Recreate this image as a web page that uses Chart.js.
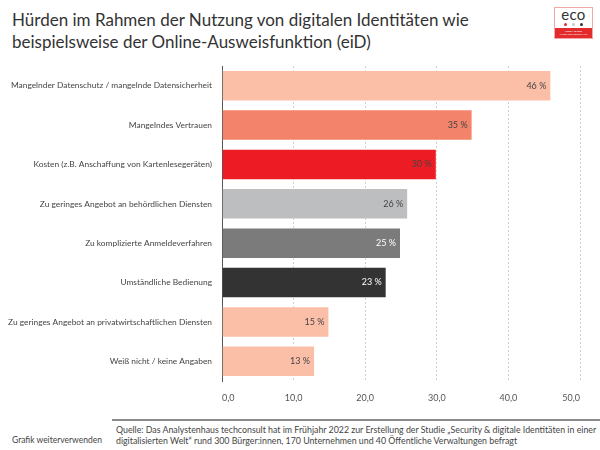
<!DOCTYPE html>
<html lang="de">
<head>
<meta charset="utf-8">
<script src="https://cdn.jsdelivr.net/npm/chart.js@4.4.0/dist/chart.umd.min.js"></script>
<style>
    html, body { margin: 0; padding: 0; background: #fff; }
    body { width: 600px; height: 450px; position: relative; overflow: hidden; font-family: Lato, "Open Sans", sans-serif; color: #333; }
    #chart { position: absolute; left: 0; top: 0; }
    .title { position: absolute; left: 12px; top: 9px; font-size: 17px; line-height: 21.5px; color: #333; }
    .logo { position: absolute; left: 554px; top: 7px; width: 37px; height: 30px; border: 1px solid #f0a8a8; background: #fff; }
    .logo .word { position: absolute; left: 0; right: 0; top: -1px; text-align: center; font-size: 15px; line-height: 15px; color: #333; letter-spacing: 0.3px; }
    .logo .dot { position: absolute; top: 15px; width: 3px; height: 3px; border-radius: 50%; }
    .logo .band { position: absolute; left: 0; right: 0; bottom: 0; height: 10px; background: #e32b2b; color: #fff; font-size: 2.5px; line-height: 3px; text-align: center; padding-top: 2px; box-sizing: border-box; }
    .rule { position: absolute; left: 112px; top: 419px; width: 488px; height: 2px; background: #8a8a8a; }
    .reuse { position: absolute; left: 12px; top: 435px; font-size: 8.5px; color: #444; }
    .source { position: absolute; left: 116px; top: 423.5px; font-size: 8.8px; line-height: 11.5px; color: #444; }
</style>
</head>
<body>
<div class="title">Hürden im Rahmen der Nutzung von digitalen Identitäten wie<br>beispielsweise der Online-Ausweisfunktion (eiD)</div>
<div class="logo">
    <div class="word">eco</div>
    <div class="dot" style="left:9px;background:#e32b2b"></div>
    <div class="dot" style="left:17px;background:#c8c8c8"></div>
    <div class="dot" style="left:25px;background:#333"></div>
    <div class="band">VERBAND DER<br>INTERNETWIRTSCHAFT</div>
</div>
<canvas id="chart" width="600" height="410"></canvas>
<div class="rule"></div>
<div class="reuse">Grafik weiterverwenden</div>
<div class="source">Quelle: Das Analystenhaus techconsult hat im Frühjahr 2022 zur Erstellung der Studie „Security &amp; digitale Identitäten in einer<br>digitalisierten Welt“ rund 300 Bürger:innen, 170 Unternehmen und 40 Öffentliche Verwaltungen befragt</div>

<script>
// Data
const categories = [
    'Mangelnder Datenschutz / mangelnde Datensicherheit',
    'Mangelndes Vertrauen',
    'Kosten (z.B. Anschaffung von Kartenlesegeräten)',
    'Zu geringes Angebot an behördlichen Diensten',
    'Zu komplizierte Anmeldeverfahren',
    'Umständliche Bedienung',
    'Zu geringes Angebot an privatwirtschaftlichen Diensten',
    'Weiß nicht / keine Angaben'
];
const values = [46, 35, 30, 26, 25, 23, 15, 13];
const valueLabels = ['46 %', '35 %', '30 %', '26 %', '25 %', '23 %', '15 %', '13 %'];
const tickLabels = ['0,0', '10,0', '20,0', '30,0', '40,0', '50,0'];

const barColors = ['#fbbea7', '#f3836a', '#ed1c24', '#bdbec0', '#7b7b7b', '#333333', '#fbbea7', '#fbbea7'];
const labelColors = ['#444', '#444', '#444', '#444', '#fff', '#fff', '#444', '#444'];

// Value labels at the end of each bar
const barLabels = {
    id: 'barLabels',
    afterDatasetsDraw(chart) {
        const ctx = chart.ctx;
        const meta = chart.getDatasetMeta(0);
        ctx.save();
        ctx.font = '9px Lato, sans-serif';
        ctx.textAlign = 'right';
        ctx.textBaseline = 'middle';
        meta.data.forEach(function(bar, i) {
            ctx.fillStyle = labelColors[i];
            ctx.fillText(valueLabels[i], bar.x - 5, bar.y);
        });
        ctx.restore();
    }
};

new Chart(document.getElementById('chart'), {
    type: 'bar',
    data: {
        labels: categories,
        datasets: [{
            data: values,
            backgroundColor: barColors,
            borderColor: 'rgba(255, 255, 255, 0.45)',
            borderWidth: 1,
            barPercentage: 0.8,
            categoryPercentage: 1
        }]
    },
    options: {
        indexAxis: 'y',
        responsive: false,
        animation: false,
        devicePixelRatio: 1,
        layout: { padding: { top: 66, right: 20, left: 0, bottom: 0 } },
        plugins: {
            legend: { display: false },
            tooltip: { enabled: false }
        },
        scales: {
            x: {
                min: 0,
                max: 50,
                afterFit: function(scale) { scale.height = 29; },
                ticks: {
                    stepSize: 10,
                    align: 'inner',
                    padding: 12,
                    color: '#555',
                    font: { family: 'Lato', size: 9 },
                    callback: function(value, index) { return tickLabels[index]; }
                },
                grid: { color: '#cfcfcf', lineWidth: 1, drawTicks: false },
                border: { display: false, dash: [2, 2] }
            },
            y: {
                afterFit: function(scale) { scale.width = 222; },
                ticks: {
                    padding: 10,
                    color: '#444',
                    font: { family: 'Lato', size: 8.4 }
                },
                grid: { display: false, drawTicks: false },
                border: { display: true, color: '#555', width: 1 }
            }
        }
    },
    plugins: [barLabels]
});
</script>
</body>
</html>
